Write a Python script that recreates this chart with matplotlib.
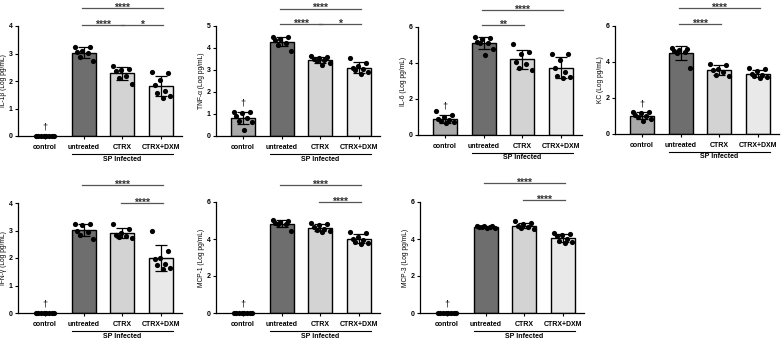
import matplotlib
matplotlib.use("Agg")
import matplotlib.pyplot as plt
import matplotlib.transforms as mtransforms
import numpy as np

plt.rcParams['font.family'] = ['Liberation Sans', 'DejaVu Sans']
plt.rcParams['font.weight'] = 'bold'

groups = ['control', 'untreated', 'CTRX', 'CTRX+DXM']
bar_colors = ['#a9a9a9', '#6e6e6e', '#d3d3d3', '#e9e9e9']

# individual animals, log pg/mL
il1b = [[0, 0, 0, 0, 0, 0, 0, 0],
        [3.25, 3.22, 3.10, 3.05, 3.02, 2.88, 2.72],
        [2.55, 2.45, 2.40, 2.35, 2.20, 2.10, 1.88],
        [2.32, 2.28, 2.05, 1.85, 1.62, 1.55, 1.45, 1.38]]
tnfa = [[1.10, 1.08, 1.05, 0.90, 0.82, 0.70, 0.65, 0.28],
        [4.52, 4.48, 4.42, 4.35, 4.25, 4.15, 3.88],
        [3.65, 3.60, 3.55, 3.50, 3.45, 3.40, 3.32, 3.25],
        [3.55, 3.30, 3.20, 3.10, 3.05, 3.00, 2.90, 2.80]]
il6 = [[1.33, 1.10, 1.00, 0.90, 0.85, 0.75, 0.70, 0.65],
       [5.45, 5.40, 5.35, 5.15, 5.10, 5.10, 4.80, 4.45],
       [5.05, 4.60, 4.50, 4.05, 3.95, 3.70, 3.60],
       [4.50, 4.50, 4.15, 3.70, 3.50, 3.25, 3.20, 3.15]]
kc = [[1.25, 1.20, 1.15, 1.05, 1.00, 0.95, 0.85, 0.75],
      [4.80, 4.70, 4.65, 4.60, 4.55, 4.50, 3.65],
      [3.88, 3.85, 3.62, 3.55, 3.47, 3.30, 3.20],
      [3.65, 3.60, 3.50, 3.35, 3.30, 3.20, 3.15, 3.10]]
ifng = [[0, 0, 0, 0, 0, 0, 0, 0],
        [3.24, 3.22, 3.20, 3.00, 2.95, 2.85, 2.68],
        [3.25, 3.05, 2.90, 2.85, 2.80, 2.78, 2.72],
        [3.00, 2.25, 2.00, 1.95, 1.80, 1.75, 1.62, 1.60]]
mcp1 = [[0, 0, 0, 0, 0, 0, 0, 0],
        [5.05, 4.95, 4.90, 4.85, 4.80, 4.80, 4.45],
        [4.85, 4.80, 4.75, 4.65, 4.55, 4.50, 4.45, 4.40],
        [4.40, 4.35, 4.10, 4.00, 3.95, 3.85, 3.80, 3.75]]
mcp3 = [[0, 0, 0, 0, 0, 0, 0, 0],
        [4.72, 4.70, 4.68, 4.67, 4.65, 4.63, 4.62, 4.60],
        [4.95, 4.85, 4.80, 4.70, 4.65, 4.60, 4.55],
        [4.30, 4.25, 4.20, 4.15, 4.00, 3.90, 3.85, 3.80]]

ylabels = ['IL-1β (Log pg/mL)', 'TNF-α (Log pg/mL)', 'IL-6 (Log pg/mL)',
           'KC (Log pg/mL)', 'IFN-γ (Log pg/mL)', 'MCP-1 (Log pg/mL)',
           'MCP-3 (Log pg/mL)']
yticks = [[0, 1, 2, 3, 4], [0, 1, 2, 3, 4, 5], [0, 2, 4, 6], [0, 2, 4, 6],
          [0, 1, 2, 3, 4], [0, 2, 4, 6], [0, 2, 4, 6]]
# comparisons: (group a, group b, level y, stars)
sig = [[(1, 3, 4.65, '****'), (1, 2, 4.04, '****'), (2, 3, 4.04, '*')],
       [(1, 3, 5.78, '****'), (1, 2, 5.09, '****'), (2, 3, 5.09, '*')],
       [(1, 3, 6.94, '****'), (1, 2, 6.10, '**')],
       [(1, 3, 7.0, '****'), (1, 2, 6.10, '****')],
       [(1, 3, 4.65, '****'), (2, 3, 4.00, '****')],
       [(1, 3, 6.92, '****'), (2, 3, 6.00, '****')],
       [(1, 3, 7.03, '****'), (2, 3, 6.10, '****')]]
data = [il1b, tnfa, il6, kc, ifng, mcp1, mcp3]

W, H = 784, 339
fig = plt.figure(figsize=(W / 100, H / 100), dpi=100)
# axes boxes in pixels: left, top, bottom
boxes = [(18, 26, 136), (216, 26, 136), (418, 27, 135), (615, 26, 134),
         (18, 203, 313), (216, 202, 313), (420, 202, 313)]
xlim = (-0.7, 3.55)
unit = 38.7
order = [0, 6, 3, 1, 5, 2, 7, 4]

for k, (left, top, bot) in enumerate(boxes):
    ax = fig.add_axes([left / W, (H - bot) / H, (xlim[1] - xlim[0]) * unit / W,
                       (bot - top) / H])
    vals = data[k]
    for i, v in enumerate(vals):
        v = np.array(v)
        m, sd = v.mean(), v.std(ddof=1)
        ax.bar(i, m, width=0.62, color=bar_colors[i], edgecolor='black',
               linewidth=1.0, zorder=1)
        ax.errorbar(i, m, yerr=sd, color='black', capsize=4, elinewidth=0.9,
                    capthick=0.9, zorder=3)
        offs = np.linspace(-0.24, 0.24, 8)
        xs = [i + offs[order[j] % 8] for j in range(len(v))]
        ax.scatter(xs, v, s=14, color='black', zorder=4, linewidths=0,
                   clip_on=False)
        if i == 0:
            ax.annotate('†', (0, m + sd), xytext=(0, 3), textcoords='offset points',
                        ha='center', va='bottom', fontsize=6.5, fontweight='normal')
    ax.set_xlim(*xlim)
    ax.set_ylim(0, yticks[k][-1])
    ax.set_yticks(yticks[k])
    ax.set_xticks(range(4))
    ax.set_xticklabels(groups)
    ax.tick_params(axis='both', labelsize=5, length=2.5, width=0.8, pad=1.5)
    ax.tick_params(axis='x', pad=3)
    ax.set_ylabel(ylabels[k], fontsize=4.8, labelpad=1)
    for s in ['top', 'right']:
        ax.spines[s].set_visible(False)
    for s in ['left', 'bottom']:
        ax.spines[s].set_linewidth(0.9)

    trans = mtransforms.blended_transform_factory(ax.transData, ax.transAxes)
    ax.plot([0.69, 3.31], [-0.165, -0.165], color='black', lw=0.8,
            transform=trans, clip_on=False)
    ax.text(2, -0.21, 'SP Infected', transform=trans, ha='center', va='center',
            fontsize=5)

    for a, b, y, stars in sig[k]:
        ax.plot([a - 0.05, b + 0.05], [y, y], color='#555555', lw=0.9,
                clip_on=False)
        ax.annotate(stars, ((a + b) / 2, y), xytext=(0, -1.8),
                    textcoords='offset points', ha='center', va='baseline',
                    fontsize=7.5, color='#333333', annotation_clip=False)

fig.savefig('out.png', dpi=100)
